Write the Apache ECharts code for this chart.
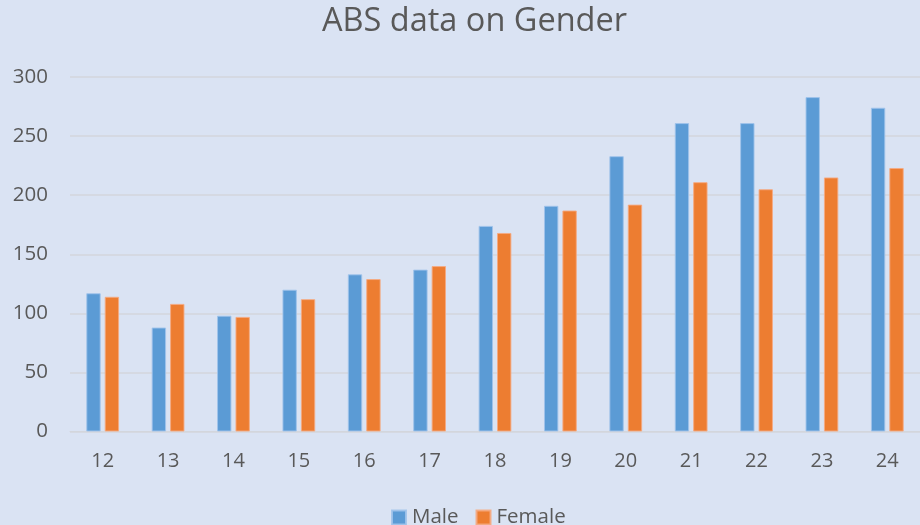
<!DOCTYPE html>
<html><head><meta charset="utf-8">
<script src="https://cdn.jsdelivr.net/npm/echarts@6/dist/echarts.min.js"></script>
<style>html,body{margin:0;padding:0;background:#dae3f3}#c{width:920px;height:525px}</style>
</head><body><div id="c"></div>
<script>
const categories = ['12','13','14','15','16','17','18','19','20','21','22','23','24'];
const maleValues = [117, 88, 98, 120, 133, 137, 174, 191, 233, 261, 261, 283, 274];
const femaleValues = [114, 108, 97, 112, 129, 140, 168, 187, 192, 211, 205, 215, 223];
const yTicks = [0, 50, 100, 150, 200, 250, 300];

const font = '"Open Sans", sans-serif';
const chart = echarts.init(document.getElementById('c'), null, {renderer: 'canvas'});
chart.setOption({
  backgroundColor: '#dae3f3',
  animation: false,
  title: {text: 'ABS data on Gender', left: 317, top: 0,
    textStyle: {fontFamily: font, fontSize: 32.5, fontWeight: 'normal', color: '#595959'}},
  legend: {top: 502, left: 386, itemWidth: 14, itemHeight: 14, itemGap: 17,
    icon: 'rect',
    textStyle: {fontFamily: font, fontSize: 20.5, color: '#595959', padding: [0,0,0,1]}},
  grid: {left: 70, width: 855, top: 77, height: 354.5, containLabel: false},
  xAxis: {type: 'category', data: categories,
    axisLine: {lineStyle: {color: '#d3d6dc', width: 1}}, axisTick: {show: false},
    axisLabel: {fontFamily: font, fontSize: 20, color: '#595959', margin: 20}},
  yAxis: {type: 'value', min: yTicks[0], max: yTicks[yTicks.length-1], interval: 50,
    axisLine: {show: false}, axisTick: {show: false},
    splitLine: {lineStyle: {color: '#d3d6dc', width: 1.5}},
    axisLabel: {fontFamily: font, fontSize: 20.5, color: '#595959', margin: 22}},
  series: [
    {name: 'Male', type: 'bar', data: maleValues, barWidth: '22%', barGap: '28%',
      itemStyle: {color: '#5b9bd5', borderColor: 'rgba(160,195,235,0.9)', borderWidth: 1}},
    {name: 'Female', type: 'bar', data: femaleValues, barWidth: '22%',
      itemStyle: {color: '#ed7d31', borderColor: 'rgba(245,170,130,0.9)', borderWidth: 1}}
  ]
});
</script></body></html>
